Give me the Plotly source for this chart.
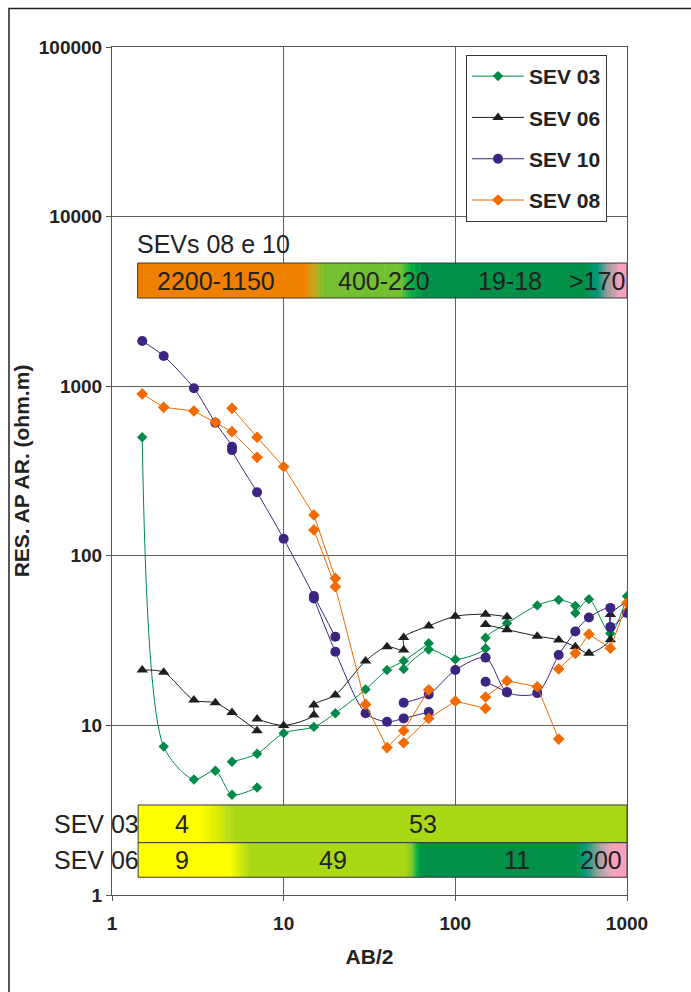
import math
import plotly.graph_objects as go

# ---------------- data ----------------
sev03_x = [1.5, 2, 3, 4, 5, 7, None,
           5, 7, 10, 15, 20, 30, 40, 50, 70, None,
           50, 70, 100, 150, 150, 200, 300, 400, 500, 500, 600, 800, 1000]
sev03_y = [500, 7.5, 4.8, 5.4, 3.9, 4.3, None,
           6.1, 6.8, 9.0, 9.8, 11.8, 16.3, 21.2, 24.0, 30.5, None,
           21.5, 28, 24.5, 28.4, 32.9, 40, 51, 55, 50.7, 46, 55.5, 34.8, 57.8]

sev06_x = [1.5, 2, 3, 4, 5, 7, None,
           7, 10, 15, 15, 20, 30, 40, 50, 50, 70, 100, 150, 200, None,
           150, 200, 300, 400, 500, 600, 800, 800, 1000]
sev06_y = [21.2, 20.6, 14.1, 13.6, 11.9, 9.3, None,
           10.9, 10.0, 11.5, 13.2, 15.1, 24.0, 29.1, 27.8, 33, 38.6, 44, 45.2, 43.7, None,
           39.3, 36.7, 33.6, 31.9, 29.1, 26.6, 32, 45, 53.5]

sev10_x = [1.5, 2, 3, 4, 5, 5, 7, 10, 15, 20, None,
           15, 20, 30, 40, 50, 70, None,
           50, 70, 100, 150, 200, 300, 400, 500, 600, 800, 800, 1000, None,
           150, 200]
sev10_y = [1848, 1507, 972, 609, 440, 420, 237, 126, 58, 33.3, None,
           56, 27.2, 11.8, 10.5, 11.0, 12.0, None,
           13.6, 15.2, 21.2, 25.1, 15.7, 15.5, 26, 35.8, 43.3, 49.3, 38.1, 46, None,
           18.1, 15.7]

sev08_x = [1.5, 2, 3, 4, 5, 7, None,
           5, 7, 10, 15, 20, None,
           15, 20, 30, 40, 50, 70, None,
           50, 70, 100, 150, None,
           150, 200, 300, 400, None,
           400, 500, 600, 800, 1000]
sev08_y = [900, 751, 714, 612, 539, 381, None,
           741, 500, 335, 174, 73.7, None,
           142, 65.8, 13.3, 7.4, 9.3, 16.2, None,
           7.9, 11.0, 13.9, 12.6, None,
           14.7, 18.3, 16.9, 8.3, None,
           21.5, 26.6, 34.5, 28.5, 52.8]

series_names = ["SEV 03", "SEV 06", "SEV 10", "SEV 08"]

x_tick_vals = [1, 10, 100, 1000]
x_tick_text = ["1", "10", "100", "1000"]
y_tick_vals = [1, 10, 100, 1000, 10000, 100000]
y_tick_text = ["1", "10", "100", "1000", "10000", "100000"]

# interpretation bands (AB/2 colour stops)
band_0810_stops = [(1.41, "#f08000"), (13.1, "#f08000"), (15.0, "#c8a414"), (17.3, "#74c030"),
                   (48, "#70c030"), (55, "#00b040"), (64.6, "#009048"), (561, "#009048"),
                   (677, "#00987c"), (775, "#9c9c9c"), (910, "#f6a0c0"), (1000, "#f6a0c0")]
band_0810_y = (3311, 5325)
band_0810_labels = ["2200-1150", "400-220", "19-18", ">170"]
band_0810_label_x = [4.04, 38.2, 209, 673]

band_sev03_stops = [(1.42, "#ffff00"), (3.19, "#ffff00"), (4.0, "#e0ee00"), (5.09, "#aad815"),
                    (1000, "#aad815")]
band_sev03_y = (2.034, 3.395)
band_sev03_labels = ["4", "53"]
band_sev03_label_x = [2.57, 65.2]

band_sev06_stops = [(1.42, "#ffff00"), (4.83, "#ffff00"), (6.33, "#aad815"), (50.9, "#aad815"),
                    (56, "#7cc830"), (60, "#00b040"), (63.5, "#009048"), (509, "#009048"),
                    (569, "#00987c"), (687, "#a0a0a0"), (834, "#f8a0c0"), (1000, "#f8a0c0")]
band_sev06_y = (1.272, 2.034)
band_sev06_labels = ["9", "49", "11", "200"]
band_sev06_label_x = [2.57, 19.5, 230, 707]

# ---------------- styles ----------------
colors = ["#008a4a", "#1e1e1e", "#3c2580", "#f26a00"]
symbols = ["diamond", "triangle-up", "circle", "diamond"]
msizes = [8, 10, 10, 9]
shapes_line = ["spline", "spline", "spline", "linear"]
FONT = "Liberation Sans, Arial, sans-serif"

fig = go.Figure()
all_x = [sev03_x, sev06_x, sev10_x, sev08_x]
all_y = [sev03_y, sev06_y, sev10_y, sev08_y]
for i, name in enumerate(series_names):
    fig.add_trace(go.Scatter(
        x=all_x[i], y=all_y[i], name=name, mode="lines+markers",
        line=dict(color=colors[i], width=1, shape=shapes_line[i], smoothing=0.8),
        marker=dict(symbol=symbols[i], size=msizes[i], color=colors[i]),
        connectgaps=False, legendgroup=name,
    ))


def hex2rgb(h):
    h = h.lstrip("#")
    return tuple(int(h[k:k + 2], 16) for k in (0, 2, 4))


def band_shapes(stops, yr, n=14):
    out = []
    for (xa, ca), (xb, cb) in zip(stops[:-1], stops[1:]):
        la, lb = math.log10(xa), math.log10(xb)
        if ca == cb:
            pieces = [(la, lb, ca)]
        else:
            ra, rb = hex2rgb(ca), hex2rgb(cb)
            pieces = []
            for k in range(n):
                t = (k + 0.5) / n
                c = tuple(round(ra[j] + (rb[j] - ra[j]) * t) for j in range(3))
                pieces.append((la + (lb - la) * k / n, la + (lb - la) * (k + 1) / n,
                               "rgb(%d,%d,%d)" % c))
        for p0, p1, c in pieces:
            out.append(dict(type="rect", xref="x", yref="y", layer="above",
                            x0=10 ** p0, x1=10 ** min(p1 + 0.003, math.log10(stops[-1][0])),
                            y0=yr[0], y1=yr[1], fillcolor=c, line=dict(width=0)))
    out.append(dict(type="rect", xref="x", yref="y", layer="above",
                    x0=stops[0][0], x1=stops[-1][0], y0=yr[0], y1=yr[1],
                    fillcolor="rgba(0,0,0,0)", line=dict(color="#3a3a3a", width=1)))
    return out


shapes = []
shapes += band_shapes(band_0810_stops, band_0810_y)
shapes += band_shapes(band_sev03_stops, band_sev03_y)
shapes += band_shapes(band_sev06_stops, band_sev06_y)
# outer chart frame
shapes.append(dict(type="rect", xref="paper", yref="paper", x0=-0.2, x1=1.2, y0=-0.2, y1=1.0454,
                   fillcolor="rgba(0,0,0,0)", line=dict(color="#222222", width=1.5), layer="below"))

annotations = []


def band_labels(labels, xs, yr):
    ym = (math.log10(yr[0]) + math.log10(yr[1])) / 2
    for t, xv in zip(labels, xs):
        annotations.append(dict(text=t, x=math.log10(xv), y=ym, xref="x", yref="y",
                                showarrow=False, xanchor="center", yanchor="middle",
                                font=dict(family=FONT, size=25, color="#222222")))


band_labels(band_0810_labels, band_0810_label_x, band_0810_y)
band_labels(band_sev03_labels, band_sev03_label_x, band_sev03_y)
band_labels(band_sev06_labels, band_sev06_label_x, band_sev06_y)

annotations.append(dict(text="SEVs 08 e 10", x=math.log10(1.36), y=3.838, xref="x", yref="y",
                        showarrow=False, xanchor="left", yanchor="middle",
                        font=dict(family=FONT, size=25, color="#222222")))
for lab, yr in (("SEV 03", band_sev03_y), ("SEV 06", band_sev06_y)):
    annotations.append(dict(text=lab, x=math.log10(1.47),
                            y=(math.log10(yr[0]) + math.log10(yr[1])) / 2,
                            xref="x", yref="y", showarrow=False, xanchor="right", yanchor="middle",
                            font=dict(family=FONT, size=25, color="#222222")))

fig.update_layout(
    width=691, height=992,
    margin=dict(l=112, r=64, t=47, b=97),
    paper_bgcolor="white", plot_bgcolor="white",
    showlegend=True,
    legend=dict(x=0.6874, y=0.9906, xanchor="left", yanchor="top",
                bgcolor="white", bordercolor="#333333", borderwidth=1,
                font=dict(family=FONT, size=21, color="#222222", weight="bold"),
                tracegroupgap=11, itemwidth=52),
    shapes=shapes, annotations=annotations,
    xaxis=dict(type="log", range=[0, 3], tickvals=x_tick_vals, ticktext=x_tick_text,
               showgrid=True, gridcolor="#606060", gridwidth=1,
               showline=True, linecolor="#555555", linewidth=1, mirror=True,
               ticks="outside", ticklen=5, tickcolor="#555555", ticklabelstandoff=6,
               tickfont=dict(family=FONT, size=19, color="#222222", weight="bold"),
               title=dict(text="AB/2", standoff=16,
                          font=dict(family=FONT, size=21, color="#222222", weight="bold")),
               zeroline=False),
    yaxis=dict(type="log", range=[0, 5], tickvals=y_tick_vals, ticktext=y_tick_text,
               showgrid=True, gridcolor="#606060", gridwidth=1,
               showline=True, linecolor="#555555", linewidth=1, mirror=True,
               ticks="outside", ticklen=5, tickcolor="#555555",
               tickfont=dict(family=FONT, size=19, color="#222222", weight="bold"),
               title=dict(text="RES. AP AR. (ohm.m)", standoff=3,
                          font=dict(family=FONT, size=21, color="#222222", weight="bold")),
               zeroline=False),
)

fig.write_html("out.html")
